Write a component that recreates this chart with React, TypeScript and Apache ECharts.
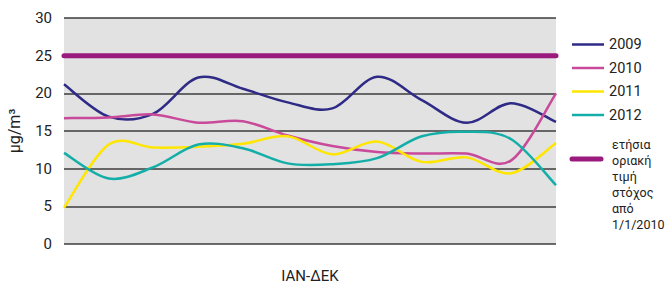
import React, { useEffect, useRef } from "react";
import * as echarts from "echarts";

const months = ["Ιαν", "Φεβ", "Μαρ", "Απρ", "Μάι", "Ιούν", "Ιούλ", "Αύγ", "Σεπ", "Οκτ", "Νοε", "Δεκ"];
const s2009 = [21.2, 16.9, 17.3, 22.1, 20.6, 18.8, 18.0, 22.2, 19.1, 16.1, 18.7, 16.2];
const s2010 = [16.7, 16.8, 17.2, 16.1, 16.3, 14.4, 13.0, 12.2, 12.0, 12.0, 11.1, 20.0];
const s2011 = [4.8, 13.2, 12.8, 12.9, 13.3, 14.3, 11.9, 13.6, 10.9, 11.5, 9.4, 13.4];
const s2012 = [12.1, 8.7, 10.2, 13.2, 12.7, 10.7, 10.6, 11.4, 14.3, 14.9, 13.9, 7.8];
const limitValues = [25, 25, 25, 25, 25, 25, 25, 25, 25, 25, 25, 25];
const yearNames = ["2009", "2010", "2011", "2012"];
const limitName = "ετήσια\nοριακή\nτιμή\nστόχος\nαπό\n1/1/2010";
const colors = ["#2e2a86", "#c94a9a", "#ffe600", "#14aea8"];
const limitColor = "#9b1a7d";
const FONT = "'Liberation Sans Narrow', 'Roboto', sans-serif";

function smoothPath(pts: number[][]): string {
  let d = `M${pts[0][0]},${pts[0][1]}`;
  for (let i = 0; i < pts.length - 1; i++) {
    const p0 = pts[i - 1] || pts[i];
    const p1 = pts[i];
    const p2 = pts[i + 1];
    const p3 = pts[i + 2] || pts[i + 1];
    const c1x = p1[0] + (p2[0] - p0[0]) / 6;
    const c1y = p1[1] + (p2[1] - p0[1]) / 6;
    const c2x = p2[0] - (p3[0] - p1[0]) / 6;
    const c2y = p2[1] - (p3[1] - p1[1]) / 6;
    d += ` C${c1x},${c1y} ${c2x},${c2y} ${p2[0]},${p2[1]}`;
  }
  return d;
}

export default function App() {
  const ref = useRef<HTMLDivElement>(null);
  useEffect(() => {
    if (!ref.current) return;
    const chart = echarts.init(ref.current, undefined, { renderer: "svg" });
    const yearSeries = [s2009, s2010, s2011, s2012].map((vals, i) => ({
      name: yearNames[i],
      type: "custom",
      data: vals.map((v, k) => [k, v]),
      encode: { x: 0, y: 1 },
      itemStyle: { color: colors[i] },
      z: 3,
      renderItem: (params: any, api: any) => {
        if (params.dataIndex !== 0) return null;
        const pts = vals.map((v, k) => api.coord([k, v]));
        return {
          type: "path",
          shape: { pathData: smoothPath(pts) },
          style: { stroke: colors[i], lineWidth: 2.5, fill: "none" },
        };
      },
    }));
    chart.setOption({
      animation: false,
      textStyle: { fontFamily: FONT },
      grid: {
        left: 64,
        right: 109,
        top: 18,
        bottom: 39,
        show: true,
        backgroundColor: "#e1e2e1",
        borderWidth: 0,
        outerBoundsMode: "none",
        containLabel: false,
      },
      legend: {
        data: yearNames,
        orient: "vertical",
        left: 567,
        top: 32,
        itemWidth: 32,
        itemHeight: 14,
        itemGap: 8.5,
        icon: "path://M0,6 L32,6 L32,8.5 L0,8.5 Z",
        textStyle: { fontSize: 14.5, color: "#222", fontFamily: FONT },
      },
      xAxis: {
        type: "category",
        data: months,
        boundaryGap: false,
        axisLabel: { show: false },
        axisTick: { show: false },
        axisLine: { show: false },
        name: "ΙΑΝ-ΔΕΚ",
        nameLocation: "middle",
        nameGap: 24,
        nameTextStyle: { fontSize: 15, color: "#222", fontFamily: FONT },
      },
      yAxis: {
        type: "value",
        min: 0,
        max: 30,
        interval: 5,
        axisLine: { show: false },
        axisTick: { show: false },
        axisLabel: { fontSize: 15, color: "#222", margin: 12, fontFamily: FONT },
        splitLine: { lineStyle: { color: "#3c3c3c", width: 1.5 } },
        name: "μg/m³",
        nameLocation: "middle",
        nameRotate: 90,
        nameGap: 42,
        nameTextStyle: { fontSize: 16, color: "#222", fontFamily: FONT },
      },
      graphic: [
        {
          type: "line",
          shape: { x1: 572, y1: 159, x2: 601, y2: 159 },
          style: { stroke: limitColor, lineWidth: 5, lineCap: "round" },
        },
        {
          type: "text",
          left: 612,
          top: 136,
          style: {
            text: limitName,
            fontSize: 12.5,
            lineHeight: 16,
            fill: "#222",
            fontFamily: FONT,
          },
        },
      ],
      series: [
        ...yearSeries,
        {
          name: "limit",
          type: "line",
          data: limitValues,
          symbol: "none",
          lineStyle: { color: limitColor, width: 5, cap: "round" },
          z: 4,
        },
      ],
    });
    return () => chart.dispose();
  }, []);
  return <div ref={ref} style={{ width: 665, height: 283, position: "absolute", left: 0, top: 0, background: "#fff" }} />;
}
